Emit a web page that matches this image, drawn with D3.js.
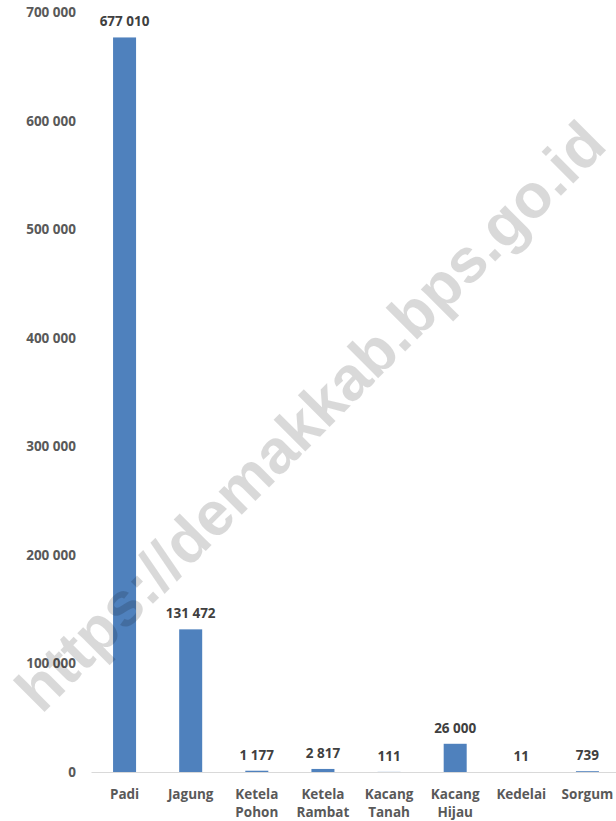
<!DOCTYPE html>
<html>
<head>
  <meta charset="utf-8">
  <title>Produksi Tanaman Pangan</title>
  <style>
    body { margin: 0; background: #fff; }
    svg text { font-family: "Open Sans", sans-serif; font-weight: bold; }
  </style>
</head>
<body>
  <script src="https://cdn.jsdelivr.net/npm/d3@7/dist/d3.min.js"></script>
  <script>

    // data
    var categories = ["Padi", "Jagung", "Ketela Pohon", "Ketela Rambat", "Kacang Tanah", "Kacang Hijau", "Kedelai", "Sorgum"]
    var values = [677010, 131472, 1177, 2817, 111, 26000, 11, 739]
    var yTicks = [0, 100000, 200000, 300000, 400000, 500000, 600000, 700000]
    var watermark = "https://demakkab.bps.go.id"

    var width = 616
    var height = 821

    var svg = d3.select("body").append("svg")
      .attr("width", width)
      .attr("height", height)

    // space as thousands separator
    var fmt = d3.formatLocale({ decimal: ",", thousands: " ", grouping: [3], currency: ["", ""] }).format(",d")

    var x = d3.scaleBand()
      .domain(categories)
      .range([91.5, 620.5])
      .paddingInner(0.652)
      .paddingOuter(0.326)

    var y = d3.scaleLinear()
      .domain([0, 700000])
      .range([772, 12.5])

    // y axis labels (no line, no ticks)
    svg.append("g")
      .attr("id", "y_axis")
      .selectAll("text")
      .data(yTicks)
      .enter()
      .append("text")
      .attr("x", 76)
      .attr("y", function (d) { return y(d) + 4.8 })
      .attr("text-anchor", "end")
      .attr("font-size", 13.5)
      .attr("fill", "#595959")
      .text(function (d) { return fmt(d) })

    // bars
    svg.append("g")
      .attr("id", "bars")
      .selectAll("rect")
      .data(values)
      .enter()
      .append("rect")
      .attr("x", function (d, i) { return x(categories[i]) })
      .attr("y", function (d) { return y(d) })
      .attr("width", x.bandwidth())
      .attr("height", function (d) { return y(0) - y(d) })
      .attr("fill", "#4F81BD")

    // baseline
    svg.append("line")
      .attr("x1", x.range()[0])
      .attr("x2", x.range()[1])
      .attr("y1", y(0) + 0.5)
      .attr("y2", y(0) + 0.5)
      .attr("stroke", "#d9d9d9")
      .attr("stroke-width", 1)

    // value labels
    svg.append("g")
      .attr("id", "labels")
      .selectAll("text")
      .data(values)
      .enter()
      .append("text")
      .attr("x", function (d, i) { return x(categories[i]) + x.bandwidth() / 2 })
      .attr("y", function (d) { return y(d) - 11 })
      .attr("text-anchor", "middle")
      .attr("font-size", 13.5)
      .attr("fill", "#404040")
      .text(function (d) { return fmt(d) })

    // category labels, wrapped on spaces
    var cat = svg.append("g")
      .attr("id", "x_axis")
      .selectAll("text")
      .data(categories)
      .enter()
      .append("text")
      .attr("x", function (d) { return x(d) + x.bandwidth() / 2 })
      .attr("y", 799)
      .attr("text-anchor", "middle")
      .attr("font-size", 13.5)
      .attr("fill", "#595959")

    cat.selectAll("tspan")
      .data(function (d) { return d.split(" ") })
      .enter()
      .append("tspan")
      .attr("x", function () { return d3.select(this.parentNode).attr("x") })
      .attr("dy", function (d, i) { return i ? 18 : 0 })
      .text(function (d) { return d })

    // watermark over the chart
    svg.append("text")
      .attr("transform", "translate(310,416) rotate(-45)")
      .attr("text-anchor", "middle")
      .attr("dy", "0.35em")
      .attr("font-size", 62)
      .style("font-family", "'Liberation Sans', Arial, sans-serif")
      .attr("fill", "#000")
      .attr("fill-opacity", 0.15)
      .text(watermark)

  </script>
</body>
</html>
